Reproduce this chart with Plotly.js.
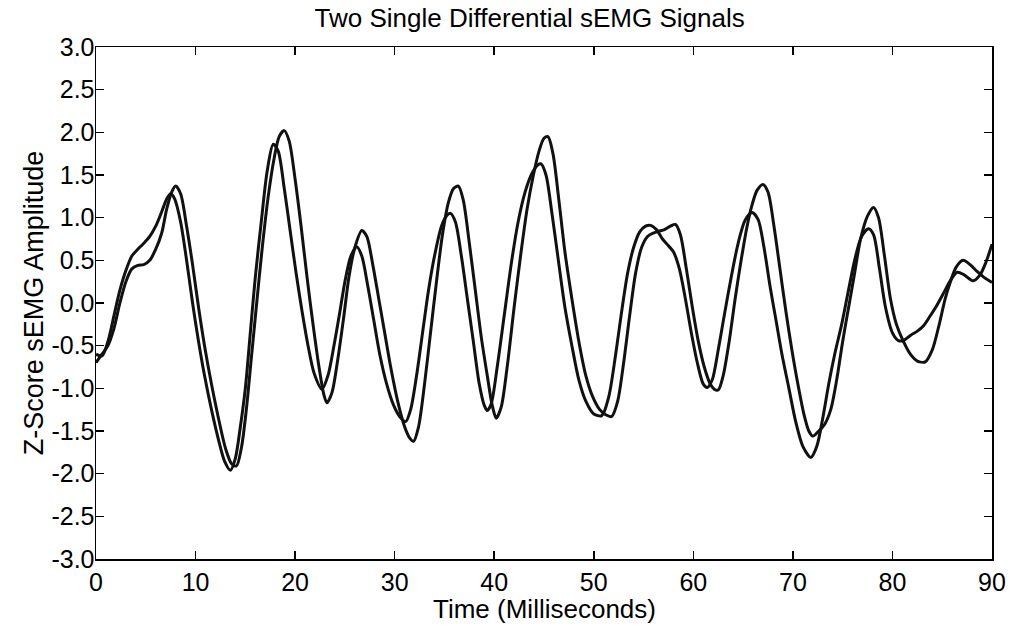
<!DOCTYPE html>
<html>
<head>
<meta charset="utf-8">
<script src="https://cdn.plot.ly/plotly-3.0.1.min.js"></script>
<style>html,body{margin:0;padding:0;background:#fff;}#chart{width:1011px;height:629px;}</style>
</head>
<body>
<div id="chart"></div>
<script>
// Signal 1 (leading channel)
const timeA = [0,0.6,1.2,1.8,2.4,3.0,3.6,4.2,4.8,5.4,6.0,6.6,7.1,7.5,7.9,8.5,9.1,9.7,10.3,10.9,11.6,12.3,12.9,13.5,14.0,14.5,15.0,15.5,16.0,16.6,17.2,17.8,18.3,18.9,19.5,20.1,20.7,21.3,21.9,22.7,23.3,23.9,24.5,25.0,25.6,26.2,26.7,27.3,27.9,28.5,29.2,29.9,30.5,31.1,31.6,32.2,32.8,33.4,34.0,34.7,35.2,35.6,36.1,36.7,37.3,37.9,38.5,39.0,39.3,39.7,40.3,41.0,41.7,42.4,43.1,43.8,44.4,44.7,45.2,45.8,46.5,47.1,47.8,48.5,49.2,50.0,50.8,51.5,52.2,52.8,53.4,54.0,54.6,55.2,55.7,56.3,56.9,57.5,58.0,58.6,59.2,59.8,60.4,61.0,61.4,61.9,62.5,63.1,63.8,64.5,65.2,65.9,66.5,67.1,67.7,68.3,68.9,69.6,70.3,71.0,71.8,72.4,73.0,73.6,74.2,74.9,75.5,76.2,76.9,77.6,78.1,78.7,79.3,80.0,80.6,81.1,81.8,82.5,83.1,83.8,84.5,85.2,85.8,86.5,87.2,88.1,88.8,89.4,90.0];
const ampA = [-0.60,-0.62,-0.45,-0.15,0.15,0.38,0.55,0.63,0.70,0.78,0.90,1.07,1.22,1.28,1.22,0.95,0.50,0.00,-0.45,-0.85,-1.25,-1.60,-1.85,-1.96,-1.82,-1.45,-1.00,-0.35,0.30,0.95,1.55,1.86,1.78,1.35,0.85,0.35,-0.10,-0.50,-0.82,-1.01,-0.85,-0.50,-0.10,0.25,0.55,0.66,0.55,0.20,-0.20,-0.60,-0.95,-1.20,-1.33,-1.39,-1.25,-0.85,-0.35,0.15,0.55,0.90,1.02,1.05,0.95,0.55,0.05,-0.45,-0.95,-1.20,-1.26,-1.18,-0.75,-0.15,0.45,0.95,1.30,1.52,1.62,1.63,1.50,1.05,0.45,-0.05,-0.50,-0.90,-1.15,-1.30,-1.32,-1.10,-0.60,-0.10,0.35,0.65,0.83,0.90,0.91,0.86,0.75,0.67,0.60,0.40,0.05,-0.35,-0.70,-0.95,-0.99,-0.90,-0.55,-0.15,0.30,0.70,0.97,1.06,0.98,0.65,0.20,-0.20,-0.60,-1.00,-1.40,-1.68,-1.81,-1.68,-1.35,-0.95,-0.60,-0.25,0.10,0.50,0.78,0.87,0.80,0.40,-0.05,-0.35,-0.44,-0.44,-0.38,-0.33,-0.27,-0.15,-0.02,0.13,0.26,0.36,0.33,0.26,0.33,0.48,0.69];

// Signal 2 (lagging channel)
const timeB = [0,0.6,1.2,1.8,2.4,3.0,3.6,4.2,4.8,5.4,6.0,6.6,7.1,7.6,8.0,8.5,9.1,9.7,10.3,10.9,11.6,12.3,13.0,13.6,14.1,14.6,15.1,15.6,16.1,16.7,17.3,17.9,18.4,18.9,19.4,20.0,20.6,21.2,21.8,22.4,22.9,23.2,23.7,24.3,24.9,25.4,26.0,26.7,27.2,27.8,28.4,29.0,29.6,30.3,31.0,31.5,31.9,32.4,33.0,33.6,34.2,34.8,35.4,35.9,36.4,36.9,37.5,38.1,38.7,39.3,39.8,40.2,40.7,41.3,42.0,42.7,43.3,43.9,44.5,45.0,45.4,45.9,46.5,47.1,47.8,48.5,49.2,49.9,50.6,51.2,51.8,52.4,53.0,53.6,54.2,54.8,55.4,56.0,56.5,57.1,57.7,58.2,58.7,59.3,59.9,60.5,61.1,61.7,62.1,62.5,63.0,63.6,64.2,64.8,65.4,65.9,66.4,67.0,67.5,68.1,68.7,69.3,69.9,70.5,71.1,71.6,72.0,72.6,73.2,73.8,74.4,75.0,75.6,76.2,76.8,77.5,78.1,78.6,79.2,79.8,80.4,81.1,81.8,82.5,83.3,84.0,84.7,85.3,85.8,86.4,87.1,87.8,88.5,89.2,90.0];
const ampB = [-0.70,-0.60,-0.50,-0.30,0.00,0.25,0.40,0.44,0.45,0.50,0.63,0.82,1.10,1.30,1.37,1.28,0.90,0.45,-0.05,-0.50,-0.95,-1.35,-1.70,-1.88,-1.91,-1.70,-1.25,-0.65,-0.05,0.65,1.25,1.70,1.95,2.02,1.90,1.45,0.90,0.30,-0.25,-0.75,-1.08,-1.17,-1.05,-0.65,-0.15,0.30,0.65,0.85,0.78,0.45,0.05,-0.35,-0.75,-1.15,-1.45,-1.58,-1.62,-1.45,-0.95,-0.35,0.25,0.80,1.18,1.34,1.37,1.20,0.70,0.15,-0.40,-0.85,-1.20,-1.35,-1.22,-0.75,-0.05,0.60,1.10,1.48,1.78,1.93,1.95,1.75,1.20,0.60,0.05,-0.45,-0.85,-1.10,-1.25,-1.31,-1.33,-1.15,-0.70,-0.15,0.35,0.65,0.78,0.82,0.84,0.86,0.90,0.92,0.80,0.40,-0.05,-0.45,-0.75,-0.95,-1.01,-1.02,-0.85,-0.45,0.05,0.50,0.90,1.15,1.32,1.39,1.30,0.90,0.40,-0.10,-0.55,-0.95,-1.30,-1.50,-1.56,-1.50,-1.42,-1.25,-0.90,-0.45,-0.05,0.35,0.75,1.02,1.12,1.00,0.55,0.05,-0.25,-0.45,-0.60,-0.68,-0.69,-0.55,-0.25,0.05,0.24,0.42,0.50,0.45,0.37,0.30,0.24];

const xTickVals = [0,10,20,30,40,50,60,70,80,90];
const xTickText = ["0","10","20","30","40","50","60","70","80","90"];
const yTickVals = [3,2.5,2,1.5,1,0.5,0,-0.5,-1,-1.5,-2,-2.5,-3];
const yTickText = ["3.0","2.5","2.0","1.5","1.0","0.5","0.0","-0.5","-1.0","-1.5","-2.0","-2.5","-3.0"];

const FONT = "Liberation Sans, Arial, Helvetica, sans-serif";
const lineStyle = {color: "#111", width: 3, shape: "spline", smoothing: 0.8};

const traces = [
  {x: timeA, y: ampA, type: "scatter", mode: "lines", line: lineStyle, name: "Signal 1", hoverinfo: "x+y"},
  {x: timeB, y: ampB, type: "scatter", mode: "lines", line: lineStyle, name: "Signal 2", hoverinfo: "x+y"}
];

const axisCommon = {
  showgrid: false, zeroline: false, showline: true, linecolor: "#000", linewidth: 1.5,
  mirror: "allticks", ticks: "inside", ticklen: 8, tickwidth: 1.5, tickcolor: "#000",
  tickfont: {family: FONT, size: 25, color: "#000"}, automargin: false, fixedrange: true
};

const layout = {
  width: 1011, height: 629,
  paper_bgcolor: "#fff", plot_bgcolor: "#fff",
  margin: {l: 96, r: 19, t: 47, b: 70},
  showlegend: false,
  font: {family: FONT, color: "#000"},
  title: {text: "Two Single Differential sEMG Signals", font: {family: FONT, size: 26, color: "#000"},
          x: 0.484, xref: "paper", xanchor: "center", y: 0.972, yref: "container", yanchor: "middle"},
  xaxis: Object.assign({}, axisCommon, {
    range: [0, 90], tickmode: "array", tickvals: xTickVals, ticktext: xTickText,
    ticklabelstandoff: 0
  }),
  yaxis: Object.assign({}, axisCommon, {
    range: [-3, 3], tickmode: "array", tickvals: yTickVals, ticktext: yTickText,
    ticklabelstandoff: -5,
    title: {text: "Z-Score sEMG Amplitude", font: {family: FONT, size: 27, color: "#000"}, standoff: 0}
  }),
  annotations: [{
    text: "Time (Milliseconds)", xref: "paper", yref: "paper", x: 0.5, y: -50 / 512,
    xanchor: "center", yanchor: "middle", showarrow: false,
    font: {family: FONT, size: 26, color: "#000"}
  }]
};

Plotly.newPlot("chart", traces, layout, {displayModeBar: false, staticPlot: true});
</script>
</body>
</html>
